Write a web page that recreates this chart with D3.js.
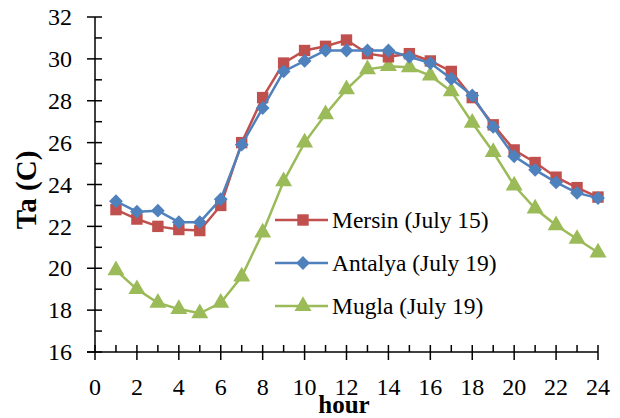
<!DOCTYPE html>
<html><head><meta charset="utf-8">
<script src="https://cdn.jsdelivr.net/npm/d3@7"></script>
<style>body{margin:0;background:#fff}svg{display:block}</style>
</head><body>
<script>
const hours = [1,2,3,4,5,6,7,8,9,10,11,12,13,14,15,16,17,18,19,20,21,22,23,24];
const mersin  = [22.8,22.35,22.0,21.85,21.8,23.0,26.0,28.15,29.8,30.4,30.6,30.9,30.25,30.1,30.25,29.9,29.4,28.15,26.85,25.65,25.05,24.35,23.85,23.4];
const antalya = [23.2,22.7,22.75,22.2,22.2,23.3,25.9,27.65,29.4,29.9,30.4,30.4,30.4,30.4,30.1,29.8,29.05,28.25,26.75,25.35,24.7,24.1,23.6,23.35];
const mugla   = [19.9,19.0,18.35,18.05,17.85,18.35,19.6,21.7,24.15,26.0,27.35,28.55,29.5,29.65,29.6,29.2,28.45,26.95,25.55,23.95,22.85,22.05,21.4,20.75];
const seriesNames = ["Mersin (July 15)","Antalya (July 19)","Mugla (July 19)"];
const xTicks = [0,2,4,6,8,10,12,14,16,18,20,22,24];
const yTicks = [16,18,20,22,24,26,28,30,32];

const W=620,H=418;
const FONT='"Liberation Serif", "Times New Roman", serif';
const svg=d3.select("body").append("svg").attr("width",W).attr("height",H)
  .style("font-family",FONT);
const x=d3.scaleLinear().domain([0,24]).range([95,598]);
const y=d3.scaleLinear().domain([16,32]).range([352,17]);

function txt(sel){ return sel.append("text").style("font-family",FONT); }

// axes
const yAxis=svg.append("g").attr("transform","translate(95,0)");
yAxis.append("line").attr("x1",0).attr("x2",0).attr("y1",y(32)).attr("y2",y(16)).attr("stroke","#000").attr("stroke-width",1.5);
d3.range(16,33,1).forEach(v=>{
  const major=v%2===0;
  yAxis.append("line").attr("x1",major?-8:0).attr("x2",7).attr("y1",y(v)).attr("y2",y(v)).attr("stroke","#000").attr("stroke-width",1.5);
});
yTicks.forEach(v=>{
  txt(yAxis).attr("x",-23).attr("y",y(v)).attr("dy","0.34em").attr("text-anchor","end")
   .attr("font-size",24).text(v);
});
const xAxis=svg.append("g").attr("transform","translate(0,352)");
xAxis.append("line").attr("x1",x(0)-8).attr("x2",x(24)).attr("y1",0).attr("y2",0).attr("stroke","#000").attr("stroke-width",1.5);
d3.range(0,25,1).forEach(v=>{
  const major=v%2===0;
  xAxis.append("line").attr("x1",x(v)).attr("x2",x(v)).attr("y1",-7).attr("y2",major?8:0).attr("stroke","#000").attr("stroke-width",1.5);
});
xTicks.forEach(v=>{
  txt(xAxis).attr("x",x(v)).attr("y",43).attr("text-anchor","middle")
   .attr("font-size",24).text(v);
});
txt(svg).attr("x",344).attr("y",413).attr("text-anchor","middle")
  .attr("font-weight","bold").attr("font-size",25).text("hour");
txt(svg).attr("transform","translate(36,190) rotate(-90)").attr("text-anchor","middle")
  .attr("font-weight","bold").attr("font-size",29).text("Ta (C)");

const colors=["#C0504D","#4F81BD","#9BBB59"];
const data=[mersin,antalya,mugla];
const shapes=[d3.symbolSquare,d3.symbolSquare,d3.symbolTriangle];
const rots=[0,45,0];
const sizes=[130,95,125];
const line=d3.line().x((d,i)=>x(hours[i])).y(d=>y(d));

const order=[2,0,1];
order.forEach(k=>{
  const g=svg.append("g");
  g.append("path").datum(data[k]).attr("d",line).attr("fill","none").attr("stroke",colors[k]).attr("stroke-width",2.5);
  g.selectAll("path.m").data(data[k]).enter().append("path").attr("class","m")
   .attr("transform",(d,i)=>`translate(${x(hours[i])},${y(d)}) rotate(${rots[k]})`)
   .attr("d",d3.symbol().type(shapes[k]).size(sizes[k])).attr("fill",colors[k]);
});

// legend
const ly=[220,263,306];
seriesNames.forEach((n,k)=>{
  const g=svg.append("g").attr("transform",`translate(0,${ly[k]})`);
  g.append("line").attr("x1",275).attr("x2",328).attr("y1",0).attr("y2",0).attr("stroke",colors[k]).attr("stroke-width",2.5);
  g.append("path").attr("transform",`translate(303,0) rotate(${rots[k]})`).attr("d",d3.symbol().type(shapes[k]).size(sizes[k])).attr("fill",colors[k]);
  txt(g).attr("x",332).attr("y",0).attr("dy","0.32em").attr("font-size",23.5).text(n);
});
</script>
</body></html>
